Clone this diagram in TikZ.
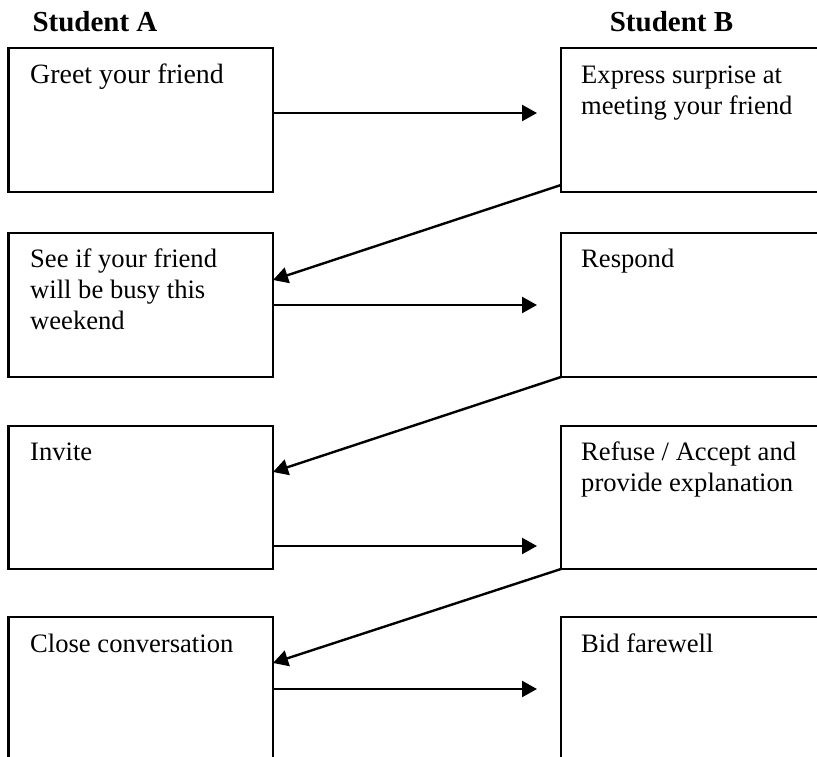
\documentclass[tikz,border=0pt]{standalone}
\usepackage{fontspec}
\setmainfont{Liberation Serif}
\usetikzlibrary{arrows.meta,calc}
\begin{document}
\begin{tikzpicture}[x=1pt,y=-1pt,
  lbox/.style={draw,line width=2.2pt,minimum width=264.5pt,minimum height=144pt,anchor=north west,inner sep=0pt,outer sep=0pt},
  rbox/.style={draw,line width=2.2pt,minimum width=300pt,minimum height=144pt,anchor=north west,inner sep=0pt,outer sep=0pt},
  txt/.style={anchor=north west,inner sep=0pt,align=left,font=\fontsize{26.6}{31}\selectfont},
  head/.style={anchor=base,inner sep=0pt,font=\fontsize{29}{34}\selectfont\bfseries},
  arr/.style={line width=2.4pt,-{Triangle[length=15pt,width=16pt]}}]
\useasboundingbox (0,0) rectangle (817,757);
\clip (0,0) rectangle (817,757);
\node[head] (ha) at (95,32) {Student A};
\node[head] (hb) at (671.5,32) {Student B};
% boxes
\node[lbox] (a1) at (8.5,48) {};
\node[rbox] (b1) at (561,48) {};
\node[lbox] (a2) at (8.5,233) {};
\node[rbox] (b2) at (561,233) {};
\node[lbox,minimum height=143pt] (a3) at (8.5,426) {};
\node[rbox,minimum height=143pt] (b3) at (561,426) {};
\node[lbox,minimum height=200pt] (a4) at (8.5,617) {};
\node[rbox,minimum height=200pt] (b4) at (561,617) {};
% texts
\node[txt,font=\fontsize{27.9}{31}\selectfont] (ta1) at ($(a1.north west)+(21.5,14)$) {\strut Greet your friend};
\node[txt] (tb1) at ($(b1.north west)+(20,13.5)$) {\strut Express surprise at\\meeting your friend};
\node[txt] (ta2) at ($(a2.north west)+(21.5,13)$) {\strut See if your friend\\will be busy this\\weekend};
\node[txt] (tb2) at ($(b2.north west)+(20,13)$) {\strut Respond};
\node[txt] (ta3) at ($(a3.north west)+(21.5,13)$) {\strut Invite};
\node[txt] (tb3) at ($(b3.north west)+(20,13)$) {\strut Refuse / Accept and\\provide explanation};
\node[txt] (ta4) at ($(a4.north west)+(21.5,13.5)$) {\strut Close conversation};
\node[txt] (tb4) at ($(b4.north west)+(20,13.5)$) {\strut Bid farewell};
% horizontal arrows
\draw[arr] ($(a1.north east)+(0,65)$) -- ($(b1.north west)+(-24,65)$);
\draw[arr] ($(a2.north east)+(0,72)$) -- ($(b2.north west)+(-24,72)$);
\draw[arr] ($(a3.north east)+(0,120)$) -- ($(b3.north west)+(-24,120)$);
\draw[arr] ($(a4.north east)+(0,72)$) -- ($(b4.north west)+(-24,72)$);
% diagonal arrows
\draw[arr] ($(b1.south west)+(0,-7)$) -- ($(a2.north east)+(0,47)$);
\draw[arr] (b2.south west) -- ($(a3.north east)+(0,46)$);
\draw[arr] (b3.south west) -- ($(a4.north east)+(0,46)$);
\end{tikzpicture}
\end{document}
